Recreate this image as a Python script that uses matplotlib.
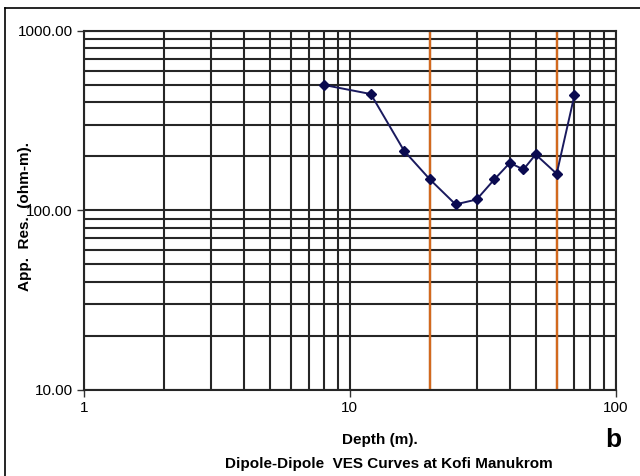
import matplotlib.pyplot as plt
import matplotlib
from matplotlib.ticker import FixedLocator, NullFormatter, LogLocator
from matplotlib.lines import Line2D

plt.rcParams['font.family'] = ['Liberation Sans', 'DejaVu Sans']
plt.rcParams['figure.facecolor'] = 'white'
plt.rcParams['axes.facecolor'] = 'white'

# dipole-dipole sounding: depth (m) vs apparent resistivity (ohm-m)
depth = [8, 12, 16, 20, 25, 30, 35, 40, 45, 50, 60, 70]
app_res = [500, 445, 215, 149, 108, 115, 149, 184, 169, 205, 160, 440]
boundaries = [20, 60]

xticks = [1, 10, 100]
xtick_labels = ["1", "10", "100"]
yticks = [10, 100, 1000]
ytick_labels = ["10.00", "100.00", "1000.00"]

fig = plt.figure(figsize=(6.4, 4.76), dpi=100)
ax = fig.add_axes([0.131, 0.181, 0.831, 0.754])

ax.set_xscale('log')
ax.set_yscale('log')
ax.set_xlim(1, 100)
ax.set_ylim(10, 1000)

# dense black log grid
ax.xaxis.set_minor_locator(LogLocator(base=10, subs=range(2, 10)))
ax.yaxis.set_minor_locator(LogLocator(base=10, subs=range(2, 10)))
ax.xaxis.set_minor_formatter(NullFormatter())
ax.yaxis.set_minor_formatter(NullFormatter())
ax.grid(True, which='both', color='#262626', linewidth=1.5)
ax.set_axisbelow(True)

for b in boundaries:
    ax.axvline(b, color='#d2691e', linewidth=1.7, zorder=2)

ax.plot(depth, app_res, color='#1a1a5e', linewidth=1.4, marker='D',
        markersize=5.5, markerfacecolor='#0a0a50', markeredgecolor='#0a0a50', zorder=3)

ax.xaxis.set_major_locator(FixedLocator(xticks))
ax.set_xticklabels(xtick_labels)
ax.yaxis.set_major_locator(FixedLocator(yticks))
ax.set_yticklabels(ytick_labels)
ax.tick_params(which='major', direction='out', length=5, width=1, labelsize=11, color='#333333', pad=3)
ax.tick_params(which='minor', length=0)

for s in ax.spines.values():
    s.set_color('#262626')
    s.set_linewidth(1.5)

fig.text(0.039, 0.546, "App.  Res.  (ohm-m).", rotation=90, ha='center', va='center',
         fontsize=11, fontweight='bold')
fig.text(0.594, 0.075, "Depth (m).", ha='center', va='center', fontsize=11, fontweight='bold')
fig.text(0.608, 0.026, "Dipole-Dipole  VES Curves at Kofi Manukrom", ha='center', va='center',
         fontsize=11, fontweight='bold')
fig.text(0.958, 0.075, "b", ha='center', va='center', fontsize=19, fontweight='bold')

# outer frame (left and top edges)
fig.add_artist(Line2D([0.008, 0.008], [0, 0.983], color='black', linewidth=1.2, transform=fig.transFigure))
fig.add_artist(Line2D([0.008, 1.0], [0.983, 0.983], color='black', linewidth=1.2, transform=fig.transFigure))

fig.savefig("out.png", dpi=100)
